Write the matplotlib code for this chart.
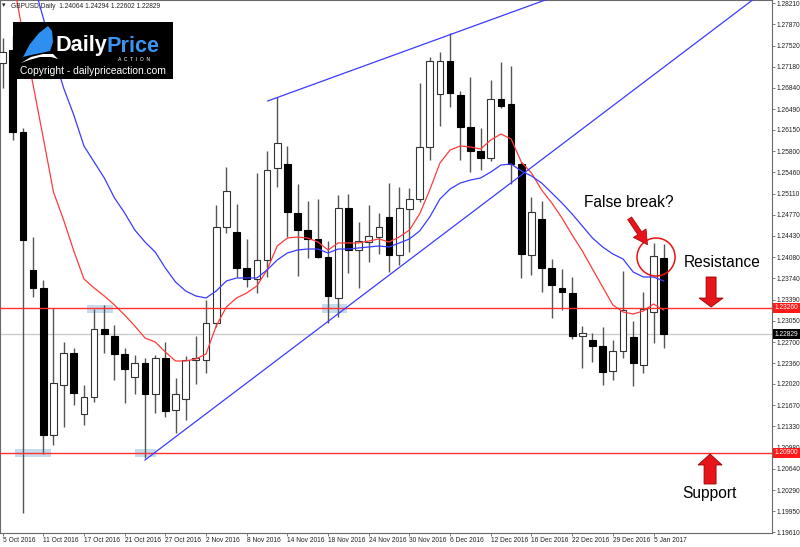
import matplotlib
matplotlib.use("Agg")
import matplotlib.pyplot as plt
import matplotlib.transforms as mtransforms
from matplotlib.patches import Rectangle, Ellipse, FancyArrow, Polygon
import numpy as np

plt.rcParams['font.family'] = ['Liberation Sans', 'DejaVu Sans']

# GBPUSD daily, 5 Oct 2016 - 6 Jan 2017
opens = [1.27239, 1.27450, 1.26117, 1.23873, 1.23580, 1.21190, 1.22003, 1.22523, 1.21531, 1.21808,
         1.22914, 1.22800, 1.22507, 1.22133, 1.22361, 1.21857, 1.22442, 1.21596, 1.21775, 1.22409,
         1.22409, 1.23011, 1.24572, 1.24491, 1.23905, 1.23726, 1.24035, 1.25531, 1.25596, 1.24800,
         1.24523, 1.24377, 1.24084, 1.23418, 1.24881, 1.24198, 1.24328, 1.24409, 1.24735, 1.24117,
         1.24865, 1.25027, 1.25873, 1.26735, 1.27271, 1.26718, 1.26198, 1.25808, 1.25694, 1.26653,
         1.26572, 1.25596, 1.24117, 1.24702, 1.23905, 1.23580, 1.23499, 1.22800, 1.22735, 1.22637,
         1.22231, 1.22556, 1.22783, 1.22328, 1.23190, 1.24064]
highs = [1.27645, 1.27694, 1.26182, 1.24409, 1.23710, 1.23255, 1.22702, 1.22605, 1.22003, 1.23239,
         1.23304, 1.22979, 1.22605, 1.22491, 1.22442, 1.22491, 1.22702, 1.22117, 1.22474, 1.22800,
         1.23385, 1.24930, 1.25548, 1.24946, 1.24377, 1.25450, 1.25808, 1.26686, 1.25889, 1.25271,
         1.24995, 1.25027, 1.24344, 1.25092, 1.25109, 1.24653, 1.24930, 1.24800, 1.25287, 1.25222,
         1.25206, 1.26913, 1.27336, 1.27418, 1.27726, 1.26783, 1.27011, 1.26182, 1.26962, 1.27255,
         1.27190, 1.25629, 1.25060, 1.24995, 1.24052, 1.23889, 1.23759, 1.22962, 1.22848, 1.22946,
         1.22735, 1.23857, 1.23044, 1.23515, 1.24312, 1.24294]
lows = [1.26832, 1.25987, 1.19922, 1.23434, 1.20881, 1.21027, 1.21320, 1.21678, 1.21353, 1.21727,
        1.22523, 1.22084, 1.21710, 1.21857, 1.20816, 1.21548, 1.21483, 1.21222, 1.21434, 1.22019,
        1.22198, 1.22946, 1.24474, 1.23759, 1.23596, 1.23499, 1.23759, 1.25222, 1.24409, 1.23775,
        1.24068, 1.24068, 1.23011, 1.23109, 1.23824, 1.23580, 1.24003, 1.24133, 1.23840, 1.23954,
        1.24166, 1.24979, 1.25661, 1.26214, 1.26523, 1.25661, 1.25466, 1.25499, 1.25645, 1.26507,
        1.25271, 1.23743, 1.23792, 1.23515, 1.23092, 1.23222, 1.22751, 1.22279, 1.22377, 1.22003,
        1.22084, 1.22442, 1.21987, 1.22198, 1.22686, 1.22602]
closes = [1.27418, 1.26117, 1.24361, 1.23580, 1.21190, 1.22035, 1.22523, 1.21873, 1.21808, 1.22914,
          1.22832, 1.22507, 1.22263, 1.22361, 1.21857, 1.22442, 1.21580, 1.21857, 1.22409, 1.22442,
          1.23011, 1.24572, 1.25157, 1.23905, 1.23726, 1.24035, 1.25499, 1.25938, 1.24816, 1.24523,
          1.24377, 1.24084, 1.23450, 1.24881, 1.24198, 1.24344, 1.24426, 1.24572, 1.24117, 1.24881,
          1.25027, 1.25873, 1.27271, 1.27271, 1.26751, 1.26198, 1.25808, 1.25694, 1.26653, 1.26539,
          1.25596, 1.24133, 1.24816, 1.23905, 1.23629, 1.23515, 1.22800, 1.22848, 1.22637, 1.22214,
          1.22556, 1.23222, 1.22361, 1.23239, 1.24100, 1.22829]

# moving averages as drawn on the chart
ma_red = [1.29564, 1.28621, 1.27710, 1.26881, 1.26019, 1.25141, 1.24686, 1.24182, 1.23726, 1.23580,
          1.23450, 1.23304, 1.23141, 1.22962, 1.22767, 1.22702, 1.22540, 1.22393, 1.22393, 1.22426,
          1.22507, 1.22962, 1.23271, 1.23418, 1.23499, 1.23613, 1.23873, 1.24263, 1.24393, 1.24409,
          1.24393, 1.24328, 1.24198, 1.24312, 1.24312, 1.24312, 1.24344, 1.24377, 1.24328, 1.24409,
          1.24523, 1.24783, 1.25174, 1.25613, 1.25824, 1.25889, 1.25873, 1.25840, 1.25987, 1.26084,
          1.26003, 1.25629, 1.25450, 1.25174, 1.24962, 1.24718, 1.24442, 1.24182, 1.23889, 1.23596,
          1.23304, 1.23190, 1.23157, 1.23206, 1.23320, 1.23222]
ma_blue = [1.30312, 1.29726, 1.29141, 1.28556, 1.27970, 1.27385, 1.26832, 1.26393, 1.25889, 1.25629,
           1.25369, 1.25044, 1.24800, 1.24523, 1.24328, 1.24166, 1.23905, 1.23678, 1.23531, 1.23450,
           1.23418, 1.23531, 1.23694, 1.23743, 1.23743, 1.23743, 1.23873, 1.24035, 1.24149, 1.24198,
           1.24214, 1.24214, 1.24149, 1.24214, 1.24214, 1.24231, 1.24247, 1.24263, 1.24247, 1.24312,
           1.24377, 1.24507, 1.24735, 1.25027, 1.25190, 1.25287, 1.25336, 1.25369, 1.25466, 1.25580,
           1.25596, 1.25483, 1.25401, 1.25287, 1.25125, 1.24962, 1.24783, 1.24588, 1.24393, 1.24247,
           1.24133, 1.24052, 1.23840, 1.23759, 1.23759, 1.23694]

date_labels = ["5 Oct 2016", "11 Oct 2016", "17 Oct 2016", "21 Oct 2016", "27 Oct 2016",
               "2 Nov 2016", "8 Nov 2016", "14 Nov 2016", "18 Nov 2016", "24 Nov 2016",
               "30 Nov 2016", "6 Dec 2016", "12 Dec 2016", "16 Dec 2016", "22 Dec 2016",
               "29 Dec 2016", "5 Jan 2017"]
price_ticks = [1.28210, 1.27870, 1.27520, 1.27180, 1.26840, 1.26490, 1.26150, 1.25800, 1.25460,
               1.25110, 1.24770, 1.24430, 1.24080, 1.23740, 1.23390, 1.23050, 1.22700, 1.22360,
               1.22020, 1.21670, 1.21330, 1.20980, 1.20640, 1.20290, 1.19950, 1.19610]

resistance = 1.23260
support = 1.20900
last_price = closes[-1]

# drawn objects (bar index, price)
upper_tl = ([26.07, 56.0], [1.26621, 1.28422])
lower_tl = ([14.0, 74.0], [1.20783, 1.28296])
zones = [(1.22, 4.76, 1.20827, 1.20957), (13.02, 15.08, 1.20827, 1.20957),
         (8.30, 10.86, 1.23169, 1.23304), (31.38, 33.86, 1.23178, 1.23315)]

W, H = 800, 547
fig = plt.figure(figsize=(8, 5.47), dpi=100)
ax = fig.add_axes([0, 14.3 / H, 771.7 / W, 532.7 / H])

n = len(closes)
x = np.arange(n)
o, h, l, c = map(np.array, (opens, highs, lows, closes))
up = c >= o

ax.vlines(x, l, h, color="#555555", lw=1, zorder=3)
bw = 0.66
ax.bar(x[up], np.maximum(c[up] - o[up], 0.00003), bottom=o[up], width=bw,
       color="white", edgecolor="#333333", lw=0.8, zorder=4)
ax.bar(x[~up], o[~up] - c[~up], bottom=c[~up], width=bw,
       color="black", edgecolor="black", lw=0.8, zorder=4)

ax.plot(x, ma_red, color="#ff3b3b", lw=0.9, zorder=5)
ax.plot(x, ma_blue, color="#3b3bff", lw=0.9, zorder=5)

ax.axhline(resistance, color="#ff3030", lw=1, zorder=5)
ax.axhline(support, color="#ff3030", lw=1, zorder=5)
ax.axhline(last_price, color="#cccccc", lw=1, zorder=1)

ax.plot(*upper_tl, color="#3b3bff", lw=0.9, zorder=5)
ax.plot(*lower_tl, color="#3b3bff", lw=0.9, zorder=5)

for x0, x1, y0, y1 in zones:
    ax.add_patch(Rectangle((x0, y0), x1 - x0, y1 - y0, facecolor="#c5dcef",
                           edgecolor="none", zorder=1))

ax.set_xlim(-0.256, 75.62)
ax.set_ylim(1.19601, 1.28263)

# axes styling
for s in ax.spines.values():
    s.set_color("#6a6a6a")
    s.set_linewidth(0.8)
ax.set_xticks(np.arange(0, n, 4))
ax.set_xticklabels(date_labels)
for lab in ax.get_xticklabels():
    lab.set_ha("left")
ax.yaxis.tick_right()
ax.set_yticks(price_ticks)
ax.set_yticklabels([f"{v:.5f}" for v in price_ticks])
ax.tick_params(axis="both", labelsize=4.8, length=2.5, width=0.6, color="#6a6a6a",
               labelcolor="#222222", pad=1)
ax.tick_params(axis="x", pad=0.8)

# price tags on the right scale
tr = mtransforms.blended_transform_factory(ax.transAxes, ax.transData)
for val, bg in ((resistance, "#ff1a1a"), (support, "#ff1a1a"), (last_price, "black")):
    ax.text(1.0035, val, f"{val:.5f}", transform=tr, fontsize=4.8, color="white",
            va="center", ha="left", clip_on=False, zorder=10,
            bbox=dict(facecolor=bg, edgecolor="none", pad=1.2))

# annotations
ax.text(61.6, 1.24970, "False break?", fontsize=11.2, ha="center", va="center", zorder=8)
ax.text(67.0, 1.23987, "Resistance", fontsize=11.2, ha="left", va="center", zorder=8)
ax.text(66.8, 1.20231, "Support", fontsize=11.2, ha="left", va="center", zorder=8)
ax.add_patch(Ellipse((64.25, 1.24084), 3.74, 0.00618, facecolor="none",
                     edgecolor="#ee1111", lw=1.1, zorder=8))
ax.annotate("", xy=(63.56, 1.24247), xytext=(61.50, 1.24751),
            arrowprops=dict(arrowstyle="simple,head_width=1.1,head_length=1.0,tail_width=0.35",
                            facecolor="#e8141c", edgecolor="#a00000", lw=0.5), zorder=8)
ax.add_patch(FancyArrow(69.66, 1.23759, 0, -0.00488, width=0.98, head_width=2.36,
                        head_length=0.00146, length_includes_head=True,
                        facecolor="#e8141c", edgecolor="#9a0000", lw=0.6, zorder=8))
ax.add_patch(FancyArrow(69.56, 1.20393, 0, 0.00488, width=1.18, head_width=2.36,
                        head_length=0.00179, length_includes_head=True,
                        facecolor="#e8141c", edgecolor="#9a0000", lw=0.6, zorder=8))

# header
fig.text(2 / W, 1 - 6 / H, "\u25be", fontsize=5, va="center", color="#222222")
fig.text(11 / W, 1 - 6 / H,
         f"GBPUSD,Daily  {opens[-1]:.5f} {highs[-1]:.5f} {lows[-1]:.5f} {closes[-1]:.5f}",
         fontsize=4.8, va="center", color="#222222")

# logo box
lg = fig.add_axes([13 / W, 1 - 79 / H, 160 / W, 57 / H], zorder=20)
lg.set_facecolor("black")
lg.set_xlim(0, 160)
lg.set_ylim(57, 0)
lg.set_xticks([])
lg.set_yticks([])
for s in lg.spines.values():
    s.set_visible(False)
lg.add_patch(Polygon([(10, 35), (17, 22), (26, 11), (35, 4), (39, 9), (40, 20), (37, 29),
                      (28, 31), (18, 33)], closed=True, facecolor="#2f8ff0", edgecolor="none"))
lg.add_patch(Polygon([(8, 41), (18, 35), (30, 32), (40, 32), (45, 37), (38, 35), (27, 35),
                      (16, 38)], closed=True, facecolor="white", edgecolor="none"))
lg.text(94, 29.5, "Daily", color="white", fontsize=15.6, fontweight="bold", ha="right",
        va="baseline")
lg.text(94, 29.5, "Price", color="#3a95f0", fontsize=15.6, fontweight="bold", ha="left",
        va="baseline")
lg.text(121, 37.3, "A  C  T  I  O  N", color="white", fontsize=3.6, ha="center", va="center")
lg.text(80, 49.5, "Copyright - dailypriceaction.com", color="white", fontsize=7.4,
        ha="center", va="center")

fig.savefig("out.png", dpi=100)
